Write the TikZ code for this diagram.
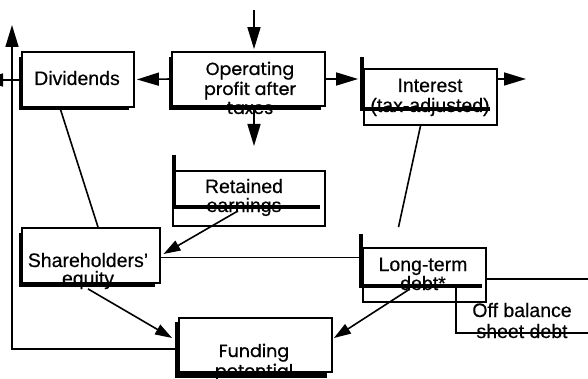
\documentclass[tikz,border=0pt]{standalone}
\usepackage{fontspec}
\setmainfont{Liberation Sans}[FakeBold=0.4]
\newfontfamily\geofont{Poppins}[FakeBold=1.0]
\usetikzlibrary{arrows.meta}
\begin{document}
\begin{tikzpicture}[x=1pt,y=-1pt,
  box/.style={draw, line width=1.8pt, fill=white, rectangle, inner sep=0pt},
  shadowbar/.style={line width=4pt},
  txt/.style={anchor=base, inner sep=0pt, font=\fontsize{19.5}{21}\selectfont},
  gtxt/.style={anchor=base, inner sep=0pt, font=\geofont\fontsize{17.5}{20}\selectfont},
  link/.style={line width=1.6pt},
  bigarrow/.style={link, -{Triangle[length=22pt,width=13pt]}},
  smallarrow/.style={link, -{Triangle[length=17pt,width=11pt]}}]
\useasboundingbox (0,0) rectangle (588,379);

% drop shadows behind the boxes
\fill (18.5,57) rectangle (129,110.5);
\fill (169,57) rectangle (321,110);
\fill (18.5,233) rectangle (155,287);
\fill (175,322) rectangle (327,378);

% off balance sheet frame (open to the right)
\node[inner sep=0pt, minimum width=148pt, minimum height=54pt] (obs) at (530,306) {};

% boxes
\node[box, minimum width=112pt, minimum height=55pt] (div) at (78,79.5) {};
\node[box, minimum width=153pt, minimum height=54pt] (opa) at (248.5,79) {};
\node[box, minimum width=133pt, minimum height=56pt] (int) at (430.5,97) {};
\node[box, minimum width=152pt, minimum height=55pt] (ret) at (249,198.5) {};
\node[box, minimum width=138pt, minimum height=55pt] (she) at (91,255.5) {};
\node[box, minimum width=123pt, minimum height=54pt] (ltd) at (424.5,275) {};
\node[box, minimum width=153pt, minimum height=54pt] (fun) at (255.5,345) {};

\draw[line width=1.8pt] (obs.north west -| ltd.east) -- (obs.north east);
\draw[line width=1.8pt] ([yshift=-9pt]obs.north west) -- (obs.south west) -- (obs.south east);

% labels
\node[txt] (divt) at (77,85) {Dividends};
\node[gtxt] (opat1) at (250,75) {Operating};
\node[gtxt] (opat2) at (250,95) {profit after};
\node[gtxt] (opat3) at (250,114) {taxes};
\node[txt] (intt1) at (430,92) {Interest};
\node[txt] (intt2) at (430,112) {(tax-adjusted)};
\node[txt] (rett1) at (244,193) {Retained};
\node[txt] (rett2) at (244,212) {earnings};
\node[txt] (shet1) at (88,267) {Shareholders'};
\node[txt] (shet2) at (88,285) {equity};
\node[txt] (ltdt1) at (423,271) {Long-term};
\node[txt] (ltdt2) at (423,290) {debt*};
\node[txt] (obst1) at (522,317) {Off balance};
\node[txt] (obst2) at (522,338) {sheet debt};
\node[gtxt] (funt1) at (254,357) {Funding};
\node[gtxt] (funt2) at (254,377) {potential};

% offset shadow bars lying in front of three boxes
\draw[shadowbar] (362,57) -- (362,109) -- (490,109);
\draw[shadowbar] (173.5,155) -- (173.5,207.5) -- (320,207.5);
\draw[shadowbar] (361,234) -- (361,286) -- (482,286);

% free ends of connectors
\coordinate (topin) at (254,10);
\coordinate (opaout) at (254,146);
\coordinate (intout) at (526,79);
\coordinate (divout) at (-19,80);
\coordinate (loopend) at (12,25);

% connectors
\draw[bigarrow, shorten >=2pt] (topin) -- (topin |- opa.north);
\draw[bigarrow] (opaout |- opa.south) -- (opaout);
\draw[bigarrow, shorten >=2pt] (opa.west) -- (div.east);
\draw[bigarrow, shorten >=5pt] (opa.east) -- (opa.east -| int.west);
\draw[bigarrow] (int.east |- intout) -- (intout);
\draw[bigarrow] (div.west |- divout) -- (divout);
\draw[bigarrow] ([yshift=-4pt]fun.west) -| (loopend);
\draw[link] ([xshift=-18pt]div.south) -- ([xshift=7pt]she.north);
\draw[link] ([xshift=-10pt]int.south) -- ([xshift=-26pt,yshift=20pt]ltd.north);
\draw[smallarrow, shorten >=3pt] ([xshift=-11pt,yshift=16pt]ret.south) -- (she.east);
\draw[link] ([yshift=-2pt]she.east) -- ([yshift=-2pt]she.east -| ltd.west);
\draw[smallarrow] ([xshift=-3pt,yshift=-5pt]she.south) -- ([xshift=-6pt,yshift=7pt]fun.west);
\draw[smallarrow] ([xshift=-14.5pt,yshift=14pt]ltd.south) -- ([xshift=1pt,yshift=7pt]fun.east);
\end{tikzpicture}
\end{document}
